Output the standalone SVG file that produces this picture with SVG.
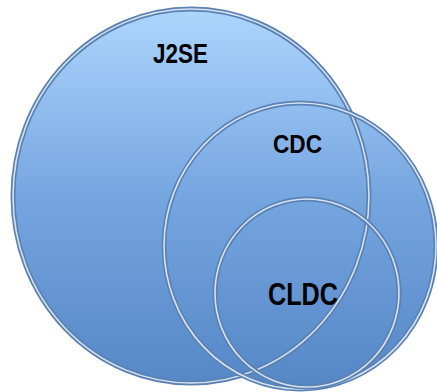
<svg xmlns="http://www.w3.org/2000/svg" width="437" height="392" viewBox="0 0 437 392">
<defs>
<linearGradient id="g" gradientUnits="userSpaceOnUse" x1="0" y1="0" x2="0" y2="392">
<stop offset="0" stop-color="#b0d8ff"/>
<stop offset="0.5" stop-color="#76a6e0"/>
<stop offset="1" stop-color="#5486c6"/>
</linearGradient>
</defs>
<style>
.fill{fill:url(#g);}
.edge{fill:none;stroke:#5a82b4;stroke-width:5;}
.rim{fill:none;stroke:#d6e2ee;stroke-width:1.6;}
.lbl{font-family:"Liberation Sans",Arial,sans-serif;font-weight:bold;fill:#000;}
</style>
<rect width="437" height="392" fill="#fff"/>
<g id="j2se">
<ellipse class="fill" cx="191" cy="196" rx="178" ry="187"/>
</g>
<g id="cdc">
<ellipse class="fill" cx="300" cy="246" rx="136" ry="143"/>
</g>
<g id="cldc">
<ellipse class="fill" cx="307" cy="293" rx="92" ry="94"/>
</g>
<g id="outlines">
<ellipse class="edge" cx="191" cy="196" rx="178" ry="187"/>
<ellipse class="rim" cx="191" cy="196" rx="178" ry="187"/>
<ellipse class="edge" cx="300" cy="246" rx="136" ry="143"/>
<ellipse class="rim" cx="300" cy="246" rx="136" ry="143"/>
<ellipse class="edge" cx="307" cy="293" rx="92" ry="94"/>
<ellipse class="rim" cx="307" cy="293" rx="92" ry="94"/>
</g>
<text class="lbl" x="153" y="63" font-size="28" textLength="55" lengthAdjust="spacingAndGlyphs">J2SE</text>
<text class="lbl" x="273" y="153" font-size="25" textLength="49" lengthAdjust="spacingAndGlyphs">CDC</text>
<text class="lbl" x="268" y="305" font-size="31" textLength="70" lengthAdjust="spacingAndGlyphs">CLDC</text>
</svg>
